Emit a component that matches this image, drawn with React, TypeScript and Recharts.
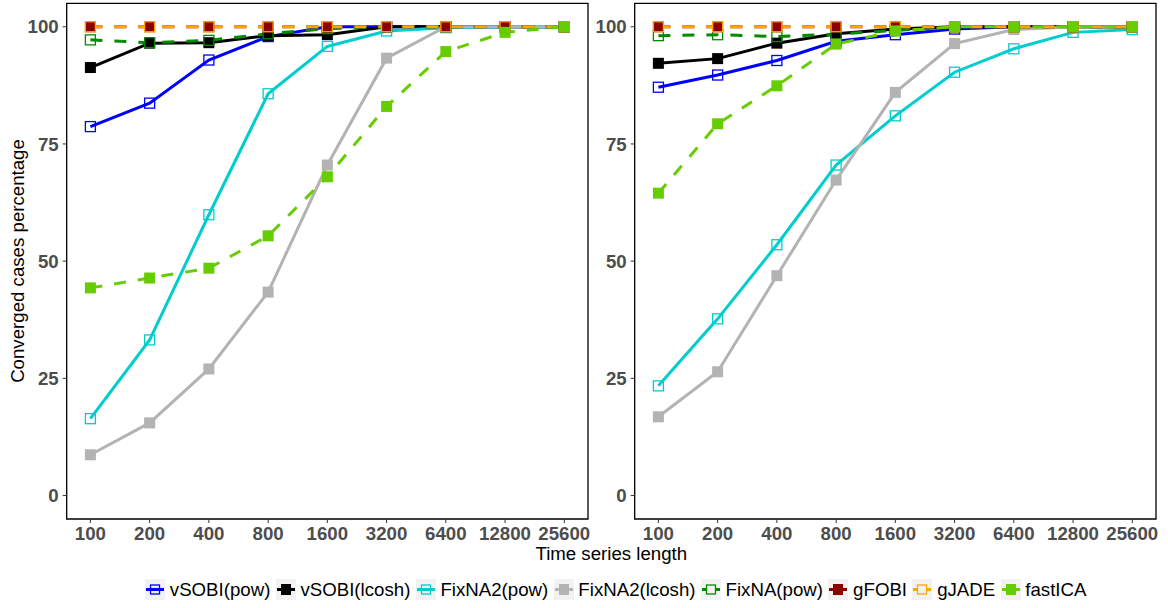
import React from 'react';
import { LineChart, Line, XAxis, YAxis, ReferenceArea } from 'recharts';

// x categories (log2 spaced time series lengths)
const xLabels = ['100', '200', '400', '800', '1600', '3200', '6400', '12800', '25600'];

// left panel
const leftVsobiPow = [78.7, 83.7, 92.9, 97.9, 100, 100, 100, 100, 100];
const leftVsobiLcosh = [91.3, 96.5, 96.6, 98.1, 98.3, 100, 100, 100, 100];
const leftFixna2Pow = [16.4, 33.2, 59.9, 85.7, 95.8, 99.1, 99.8, 100, 100];
const leftFixna2Lcosh = [8.7, 15.5, 27.0, 43.4, 70.5, 93.3, 100, 100, 100];
const leftFixnaPow = [97.2, 96.6, 97.1, 98.5, 99.6, 100, 100, 100, 100];
const leftGfobi = [100, 100, 100, 100, 100, 100, 100, 100, 100];
const leftGjade = [100, 100, 100, 100, 100, 100, 100, 100, 100];
const leftFastica = [44.3, 46.4, 48.5, 55.4, 68.0, 83.0, 94.7, 98.8, 100];

// right panel
const rightVsobiPow = [87.1, 89.7, 92.8, 96.9, 98.3, 99.5, 100, 100, 100];
const rightVsobiLcosh = [92.2, 93.2, 96.5, 98.5, 99.5, 100, 100, 100, 100];
const rightFixna2Pow = [23.4, 37.7, 53.5, 70.5, 81.0, 90.3, 95.3, 98.8, 99.4];
const rightFixna2Lcosh = [16.8, 26.4, 46.9, 67.3, 86.0, 96.4, 99.4, 100, 100];
const rightFixnaPow = [98.1, 98.3, 97.9, 98.4, 99.2, 100, 100, 100, 100];
const rightGfobi = [100, 100, 100, 100, 100, 100, 100, 100, 100];
const rightGjade = [100, 100, 100, 100, 100, 100, 100, 100, 100];
const rightFastica = [64.5, 79.3, 87.4, 96.3, 99.1, 100, 100, 100, 100];

const yTicks = [0, 25, 50, 75, 100];

const series = [
  { name: 'vSOBI(pow)', color: '#0000FF', dashed: false, filled: false },
  { name: 'vSOBI(lcosh)', color: '#000000', dashed: false, filled: true },
  { name: 'FixNA2(pow)', color: '#00CDCD', dashed: false, filled: false },
  { name: 'FixNA2(lcosh)', color: '#B3B3B3', dashed: false, filled: true },
  { name: 'FixNA(pow)', color: '#008B00', dashed: true, filled: false },
  { name: 'gFOBI', color: '#8B0000', dashed: true, filled: true },
  { name: 'gJADE', color: '#FFA500', dashed: true, filled: false },
  { name: 'fastICA', color: '#66CD00', dashed: true, filled: true },
];

const leftValues = [leftVsobiPow, leftVsobiLcosh, leftFixna2Pow, leftFixna2Lcosh, leftFixnaPow, leftGfobi, leftGjade, leftFastica];
const rightValues = [rightVsobiPow, rightVsobiLcosh, rightFixna2Pow, rightFixna2Lcosh, rightFixnaPow, rightGfobi, rightGjade, rightFastica];

const buildRows = (vals: number[][]) =>
  xLabels.map((label, i) => {
    const row: any = { x: i, label };
    vals.forEach((v, k) => { row['s' + k] = v[i]; });
    return row;
  });

const FONT = '"Liberation Sans", Arial, Helvetica, sans-serif';
const FS = 18.67;
const DASH = '12 12';

const makeDot = (color: string, filled: boolean) => (props: any) => {
  const { cx, cy, index } = props;
  if (cx == null || cy == null) return <g key={'e' + index} />;
  if (filled) {
    return <rect key={'d' + index} x={cx - 5.5} y={cy - 5.5} width={11} height={11} fill={color} />;
  }
  return <rect key={'d' + index} x={cx - 5} y={cy - 5} width={10} height={10} fill="none" stroke={color} strokeWidth={1.3} />;
};

const tickStyle = { fontFamily: FONT, fontSize: FS, fontWeight: 700, fill: '#4D4D4D' };

function Panel({ vals }: { vals: number[][] }) {
  const rows = buildRows(vals);
  return (
    <LineChart width={600} height={560} data={rows} margin={{ top: 3.3, right: 12, bottom: 0, left: 0 }}>
      <XAxis
        dataKey="x"
        type="number"
        domain={[-0.4, 8.4]}
        ticks={xLabels.map((_, i) => i)}
        tickFormatter={(v: number) => xLabels[v]}
        interval={0}
        height={41}
        axisLine={false}
        tickSize={4}
        tickMargin={4}
        tickLine={{ stroke: '#333333' }}
        tick={tickStyle}
        allowDataOverflow
      />
      <YAxis
        type="number"
        domain={[-5, 105]}
        ticks={yTicks}
        width={66.7}
        axisLine={false}
        tickSize={4}
        tickMargin={4}
        tickLine={{ stroke: '#333333' }}
        tick={tickStyle}
        allowDataOverflow
      />
      <ReferenceArea x1={-0.4} x2={8.4} y1={-5} y2={105} fill="none" stroke="#000000" strokeWidth={1.3} ifOverflow="visible" />
      {series.map((s, k) => (
        <Line
          key={'l' + k}
          dataKey={'s' + k}
          stroke={s.color}
          strokeWidth={3}
          strokeDasharray={s.dashed ? DASH : undefined}
          dot={false}
          activeDot={false}
          isAnimationActive={false}
          type="linear"
        />
      ))}
      {series.map((s, k) => (
        <Line
          key={'p' + k}
          dataKey={'s' + k}
          stroke="none"
          strokeWidth={0}
          dot={makeDot(s.color, s.filled)}
          activeDot={false}
          isAnimationActive={false}
          legendType="none"
        />
      ))}
    </LineChart>
  );
}

function LegendKey({ color, dashed, filled }: { color: string; dashed: boolean; filled: boolean }) {
  return (
    <svg width={20} height={21} style={{ display: 'block' }}>
      <rect x={0} y={0} width={20} height={21} fill="#F2F2F2" />
      {dashed ? (
        <>
          <line x1={1} x2={6} y1={10.5} y2={10.5} stroke={color} strokeWidth={3} />
          <line x1={14} x2={19} y1={10.5} y2={10.5} stroke={color} strokeWidth={3} />
        </>
      ) : (
        <line x1={1} x2={19} y1={10.5} y2={10.5} stroke={color} strokeWidth={3} />
      )}
      {filled ? (
        <rect x={5} y={5} width={10} height={11} fill={color} />
      ) : (
        <rect x={5.5} y={6} width={9} height={9} fill="none" stroke={color} strokeWidth={1.3} />
      )}
    </svg>
  );
}

export default function App() {
  return (
    <div style={{ position: 'absolute', left: 0, top: 0, width: 1168, height: 608, background: '#fff', fontFamily: FONT }}>
      <div style={{ position: 'absolute', left: 0, top: 0 }}>
        <Panel vals={leftValues} />
      </div>
      <div style={{ position: 'absolute', left: 568, top: 0 }}>
        <Panel vals={rightValues} />
      </div>
      <svg width={1168} height={608} style={{ position: 'absolute', left: 0, top: 0, pointerEvents: 'none' }}>
        <text x={611.3} y={560} textAnchor="middle" fontFamily={FONT} fontSize={FS} fill="#000">
          Time series length
        </text>
        <text transform="translate(24,261) rotate(-90)" textAnchor="middle" fontFamily={FONT} fontSize={FS} fill="#000">
          Converged cases percentage
        </text>
      </svg>
      <div style={{ position: 'absolute', left: 145, top: 579, display: 'flex', alignItems: 'center', fontSize: FS, color: '#000', whiteSpace: 'nowrap' }}>
        {series.map((s) => (
          <div key={s.name} style={{ display: 'flex', alignItems: 'center', marginRight: 5.3 }}>
            <LegendKey color={s.color} dashed={s.dashed} filled={s.filled} />
            <span style={{ marginLeft: 4.8, lineHeight: '21px' }}>{s.name}</span>
          </div>
        ))}
      </div>
    </div>
  );
}
